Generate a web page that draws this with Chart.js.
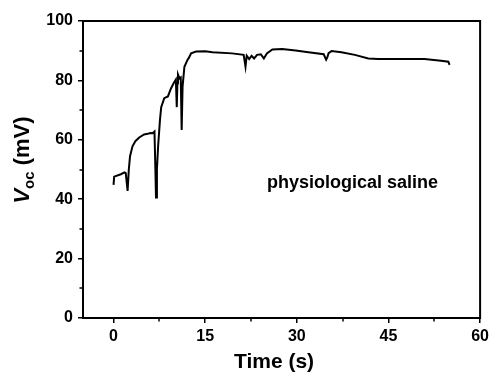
<!DOCTYPE html>
<html>
<head>
<meta charset="utf-8">
<title>Voc vs time</title>
<script src="https://cdn.jsdelivr.net/npm/chart.js@4.4.1/dist/chart.umd.min.js"></script>
<style>
  html, body { margin: 0; padding: 0; background: #fff; }
  #wrap { width: 493px; height: 373px; }
</style>
</head>
<body>
<div id="wrap"><canvas id="vocChart" width="493" height="373"></canvas></div>
<script>
// open-circuit voltage trace in physiological saline
const timeSec = [
  0.0, 0.1, 1.2, 1.8, 2.0, 2.3, 2.5, 2.7, 3.1, 3.6, 4.2, 5.0, 5.6, 6.0, 6.4, 6.7,
  6.85, 6.95, 7.1, 7.3, 7.6, 7.8, 8.3, 8.9, 9.4, 9.9, 10.2, 10.35, 10.45, 10.55,
  10.8, 11.0, 11.15, 11.3, 11.6, 12.1, 12.3, 12.7, 13.5, 15.0, 16.2, 19.4, 21.3,
  21.6, 21.8, 22.2, 22.6, 23.0, 23.5, 24.1, 24.6, 25.1, 26.0, 27.6, 29.8, 31.9,
  34.4, 34.8, 35.0, 35.2, 35.7, 37.3, 39.5, 41.7, 43.3, 46.6, 50.9, 53.6, 54.8, 55.0
];
const vocMv = [
  44.8, 47.6, 48.4, 49.0, 48.8, 42.8, 50.0, 54.5, 57.8, 59.6, 60.8, 61.8, 62.0, 62.3, 62.2, 62.8,
  50.0, 40.6, 50.0, 58.0, 66.7, 71.0, 74.0, 74.6, 77.3, 79.3, 80.3, 71.0, 79.0, 82.0,
  80.7, 81.0, 63.3, 77.9, 84.6, 86.9, 87.5, 89.1, 89.7, 89.8, 89.5, 89.1, 88.6,
  84.6, 88.3, 87.2, 88.3, 87.4, 88.6, 88.8, 87.4, 89.1, 90.4, 90.6, 90.1, 89.5,
  88.8, 87.0, 87.8, 89.2, 89.9, 89.5, 88.6, 87.4, 87.2, 87.2, 87.2, 86.6, 86.3, 85.2
];

const xMajorTicks = [0, 15, 30, 45, 60];
const xMinorTicks = [7.5, 22.5, 37.5, 52.5];
const yMinorTicks = [10, 30, 50, 70, 90];
const xTitle = "Time (s)";
const noteText = "physiological saline";
const notePos = { x: 39.1, y: 45.5 };

const FONT = "'Liberation Sans', Arial, Helvetica, sans-serif";

// box frame, minor ticks, axis titles and the in-plot note
const extrasPlugin = {
  id: "extras",
  afterDraw(chart) {
    const { ctx, chartArea: a, scales: { x, y } } = chart;
    ctx.save();
    ctx.strokeStyle = "#000";
    ctx.lineWidth = 2;
    ctx.strokeRect(a.left, a.top, a.right - a.left, a.bottom - a.top);

    ctx.lineWidth = 1.5;
    ctx.beginPath();
    xMinorTicks.forEach(v => {
      const px = Math.round(x.getPixelForValue(v));
      ctx.moveTo(px, a.bottom);
      ctx.lineTo(px, a.bottom + 3.5);
    });
    yMinorTicks.forEach(v => {
      const py = Math.round(y.getPixelForValue(v));
      ctx.moveTo(a.left, py);
      ctx.lineTo(a.left - 3.5, py);
    });
    ctx.stroke();

    ctx.fillStyle = "#000";

    // x title
    ctx.font = "bold 21px " + FONT;
    ctx.textAlign = "center";
    ctx.textBaseline = "alphabetic";
    ctx.fillText(xTitle, 274, 368);

    // V_oc (mV), rotated
    ctx.textAlign = "left";
    const fMain = "italic bold 22px " + FONT;
    const fSub = "bold 15px " + FONT;
    const fRest = "bold 22px " + FONT;
    ctx.font = fMain; const wV = ctx.measureText("V").width;
    ctx.font = fSub; const wSub = ctx.measureText("oc").width;
    ctx.font = fRest; const wRest = ctx.measureText(" (mV)").width;
    const total = wV + wSub + wRest;
    ctx.translate(29, 160);
    ctx.rotate(-Math.PI / 2);
    let cx = -total / 2;
    ctx.font = fMain; ctx.fillText("V", cx, 0); cx += wV;
    ctx.font = fSub; ctx.fillText("oc", cx, 5); cx += wSub;
    ctx.font = fRest; ctx.fillText(" (mV)", cx, 0);
    ctx.setTransform(1, 0, 0, 1, 0, 0);

    ctx.font = "bold 18px " + FONT;
    ctx.textAlign = "center";
    ctx.textBaseline = "middle";
    ctx.fillText(noteText, x.getPixelForValue(notePos.x), y.getPixelForValue(notePos.y));
    ctx.restore();
  }
};

new Chart(document.getElementById("vocChart"), {
  type: "line",
  data: {
    datasets: [{
      data: timeSec.map((t, i) => ({ x: t, y: vocMv[i] })),
      borderColor: "#000",
      borderWidth: 2,
      pointRadius: 0,
      tension: 0,
      fill: false
    }]
  },
  options: {
    responsive: false,
    animation: false,
    layout: { padding: { top: 21, right: 10, left: 0, bottom: 0 } },
    plugins: { legend: { display: false }, tooltip: { enabled: false } },
    scales: {
      x: {
        type: "linear",
        min: -5,
        max: 60,
        afterBuildTicks: scale => { scale.ticks = xMajorTicks.map(v => ({ value: v })); },
        afterFit: scale => { scale.height = 55; },
        grid: { drawOnChartArea: false, drawTicks: true, tickLength: 5, color: "#000", lineWidth: 1.5 },
        border: { display: false },
        ticks: { color: "#000", padding: 4, maxRotation: 0, font: { family: FONT, size: 16, weight: "bold" } }
      },
      y: {
        min: 0,
        max: 100,
        afterFit: scale => { scale.width = 83; },
        grid: { drawOnChartArea: false, drawTicks: true, tickLength: 5, color: "#000", lineWidth: 1.5 },
        border: { display: false },
        ticks: { stepSize: 20, color: "#000", padding: 5, font: { family: FONT, size: 16, weight: "bold" } }
      }
    }
  },
  plugins: [extrasPlugin]
});
</script>
</body>
</html>
